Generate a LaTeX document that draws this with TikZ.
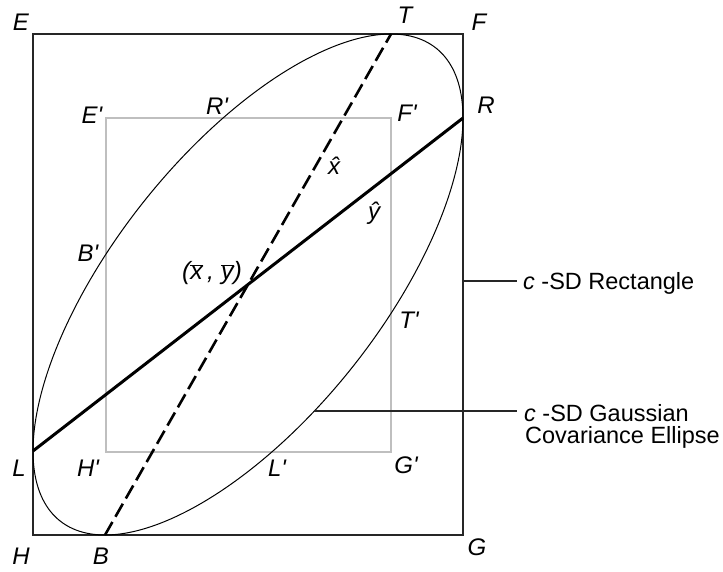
\documentclass[tikz,border=0pt]{standalone}
\usepackage{fontspec}
\setmainfont{Liberation Sans}
\begin{document}
\begin{tikzpicture}[x=1pt,y=-1pt,
  lbl/.style={font=\fontsize{24}{24}\selectfont\itshape, inner sep=0pt, anchor=center},
  side/.style={font=\fontsize{23.5}{22}\selectfont, inner sep=0pt, anchor=base west},
  outerbox/.style={draw=black!85, line width=1.5pt},
  innerbox/.style={draw=black!25, line width=1.5pt},
  ellipseline/.style={draw=black, line width=1pt},
  majorline/.style={draw=black, line width=3pt},
  minorline/.style={draw=black, line width=2.6pt, dash pattern=on 15pt off 6pt},
  leader/.style={draw=black!85, line width=1.5pt}]
\useasboundingbox (0,0) rectangle (723,572);
% corners
\coordinate (cE) at (33,34);
\coordinate (cG) at (463,535);
\coordinate (cEi) at (106,118);
\coordinate (cGi) at (391,452);
% tangent points and centre
\coordinate (C) at (248,284.5);
\coordinate (T) at (391,34);
\coordinate (B) at (105,535);
\coordinate (R) at (463,118);
\coordinate (L) at (33,451);
% rectangles
\draw[outerbox] (cE) rectangle (cG);
\draw[innerbox] (cEi) rectangle (cGi);
% ellipse
\draw[ellipseline] plot[domain=0:360, samples=240, smooth cycle]
  ({248+215*cos(\x)}, {284.5-250.5*(0.665*cos(\x)+0.7469*sin(\x))});
% axes
\draw[minorline] (B) -- (T);
\draw[majorline] (L) -- (R);
% leaders
\coordinate (r1) at (463,281);
\coordinate (e1) at ({248+215*cos(-72)},411);
\node[side] (rectlabel) at (523,289) {\textit{c} -SD Rectangle};
\node[side] (elllabel) at (524,421.7) {\textit{c} -SD Gaussian};
\node[side] (elllabelb) at (525,443.3) {Covariance Ellipse};
\coordinate (r1e) at (517,281);
\coordinate (e1e) at (517,411);
\draw[leader] (r1) -- (r1e);
\draw[leader] (e1) -- (e1e);
% labels
\node[lbl] (lE) at (21,22) {E};
\node[lbl] (lT) at (405,15) {T};
\node[lbl] (lF) at (479,22) {F};
\node[lbl] (lR) at (486,105) {R};
\node[lbl] (lFp) at (407,113) {F\textquotesingle};
\node[lbl] (lEp) at (92,115) {E\textquotesingle};
\node[lbl] (lRp) at (217,106) {R\textquotesingle};
\node[lbl] (lBp) at (88,253) {B\textquotesingle};
\node[lbl] (lC) at (212,273) {\fontsize{25}{25}\selectfont($\overline{\hbox{\itshape x}}$\,, $\overline{\hbox{\itshape y}}$)};
\node[lbl] (lxh) at (334,166) {\^x};
\node[lbl] (lyh) at (374,213) {\^y};
\node[lbl] (lTp) at (409,320) {T\textquotesingle};
\node[lbl] (lL) at (19,468) {L};
\node[lbl] (lHp) at (88,468) {H\textquotesingle};
\node[lbl] (lLp) at (277,468) {L\textquotesingle};
\node[lbl] (lGp) at (406,465) {G\textquotesingle};
\node[lbl] (lH) at (21,556) {H};
\node[lbl] (lB) at (101,556) {B};
\node[lbl] (lG) at (477,547) {G};
\end{tikzpicture}
\end{document}
